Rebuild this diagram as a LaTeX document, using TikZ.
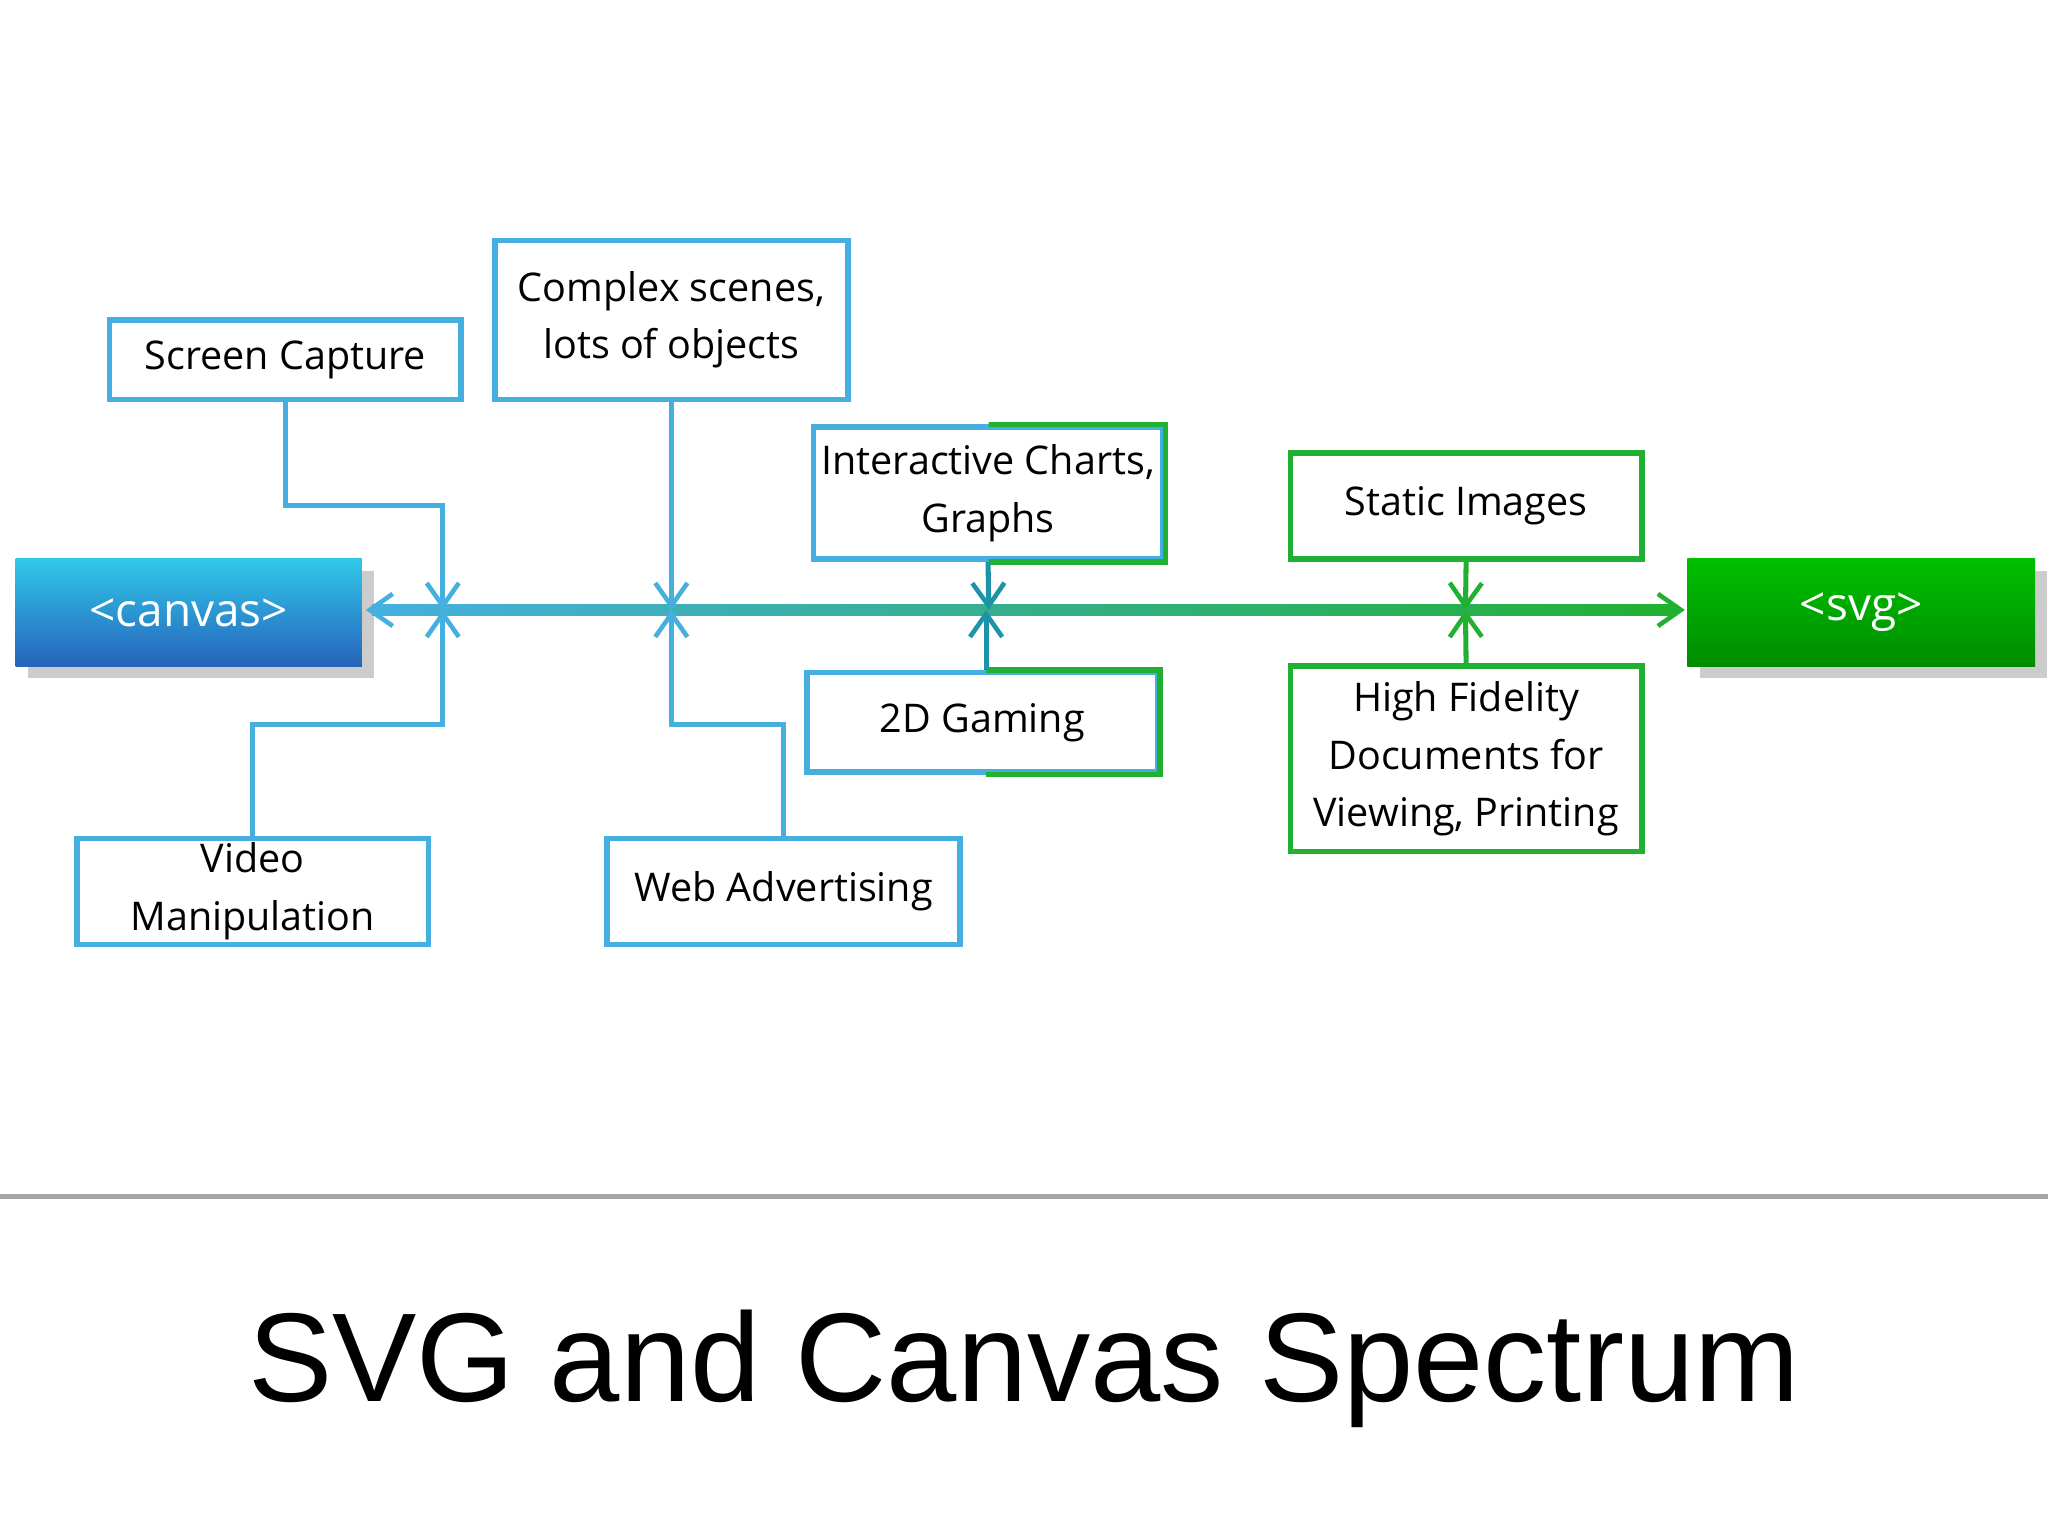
\documentclass[tikz,border=0pt]{standalone}
\usepackage{fontspec}
\setmainfont{Open Sans}
\usetikzlibrary{arrows.meta,shadows}
\definecolor{cb}{HTML}{45B0E0}
\definecolor{cg}{HTML}{22B033}
\newfontfamily\titlefont{Liberation Sans}
\begin{document}
\begin{tikzpicture}[x=0.01cm,y=-0.01cm,
  box/.style={draw=#1,line width=1.2pt,fill=white,align=center,font=\fontsize{8.6}{12.5}\selectfont,inner sep=0pt},
  con/.style={draw=#1,line width=1.1pt},
  tip/.style={-{Straight Barb[length=5pt,width=7pt,line width=1pt]}}]
\useasboundingbox (0,0) rectangle (1568,1176);
\fill[white] (0,0) rectangle (1568,1176);
% axis
\shade[left color=cb,right color=cg] (285,463) rectangle (1284,471);
\node[minimum width=265\pgflinewidth,inner sep=0pt,minimum width=2.65cm,minimum height=0.82cm,text=white,font=\fontsize{10}{12}\selectfont,
  top color=cb!70!cyan,bottom color=cb!70!blue!80!black,drop shadow={opacity=0.4}] (canvas) at (144.5,469) {<canvas>};
\node[inner sep=0pt,minimum width=2.66cm,minimum height=0.82cm,text=white,font=\fontsize{10}{12}\selectfont,
  top color=green!75!black,bottom color=green!55!black,drop shadow={opacity=0.4}] (svg) at (1425,469) {<svg>};
\coordinate (a0) at (280,467);
\coordinate (a5) at (1290,467);
\draw[cb,line width=1.2pt,tip] (320,467) -- (a0);
\draw[cg,line width=1.2pt,tip] (1250,467) -- (a5);
% boxes
\node[box=cb,minimum width=2.69cm,minimum height=0.61cm] (sc) at (218.5,275.5) {Screen Capture};
\node[box=cb,minimum width=2.70cm,minimum height=1.22cm] (cs) at (514,245) {Complex scenes,\\lots of objects};
\node[box=cb,minimum width=2.67cm,minimum height=1.01cm] (ic) at (756.5,377.5) {Interactive Charts,\\Graphs};
\begin{scope}\clip (757,300) rectangle (900,440);
\draw[cg,line width=1.2pt] (ic.north west) rectangle (ic.south east);\end{scope}
\node[box=cg,minimum width=2.69cm,minimum height=0.81cm] (si) at (1122.5,387.5) {Static Images};
\node[box=cb,minimum width=2.68cm,minimum height=0.76cm] (gm) at (752,553) {2D Gaming};
\begin{scope}\clip (755,500) rectangle (900,600);
\draw[cg,line width=1.2pt] (gm.north west) rectangle (gm.south east);\end{scope}
\node[box=cg,minimum width=2.69cm,minimum height=1.42cm] (hf) at (1122.5,581) {High Fidelity\\Documents for\\Viewing, Printing};
\node[box=cb,minimum width=2.69cm,minimum height=0.81cm] (vm) at (193.5,682.5) {Video\\Manipulation};
\node[box=cb,minimum width=2.70cm,minimum height=0.81cm] (wa) at (600,682.5) {Web Advertising};
% axis points
\coordinate (p1) at (339,467);
\coordinate (p2) at (514,467);
\coordinate (p3) at (757,467);
\coordinate (p4) at (1122,467);
\draw[con=cb,tip] (sc.south) |- (339,387) -- (p1);
\draw[con=cb,tip] (vm.north) |- (339,555) -- (p1);
\draw[con=cb,tip] (cs.south) -- (p2);
\draw[con=cb,tip] (wa.north) |- (514,555) -- (p2);
\draw[con=teal!60!cb,tip] (ic.south) -- (p3);
\draw[con=teal!60!cb,tip] (gm.north -| 755,0) -- (755,467);
\draw[con=cg,tip] (si.south) -- (p4);
\draw[con=cg,tip] (hf.north) -- (p4);
% separator and title
\fill[gray!70] (0,914) rectangle (1568,918);
\node[font=\titlefont\fontsize{27.5}{30}\selectfont] (title) at (784,1048) {SVG and Canvas Spectrum};
\end{tikzpicture}
\end{document}
